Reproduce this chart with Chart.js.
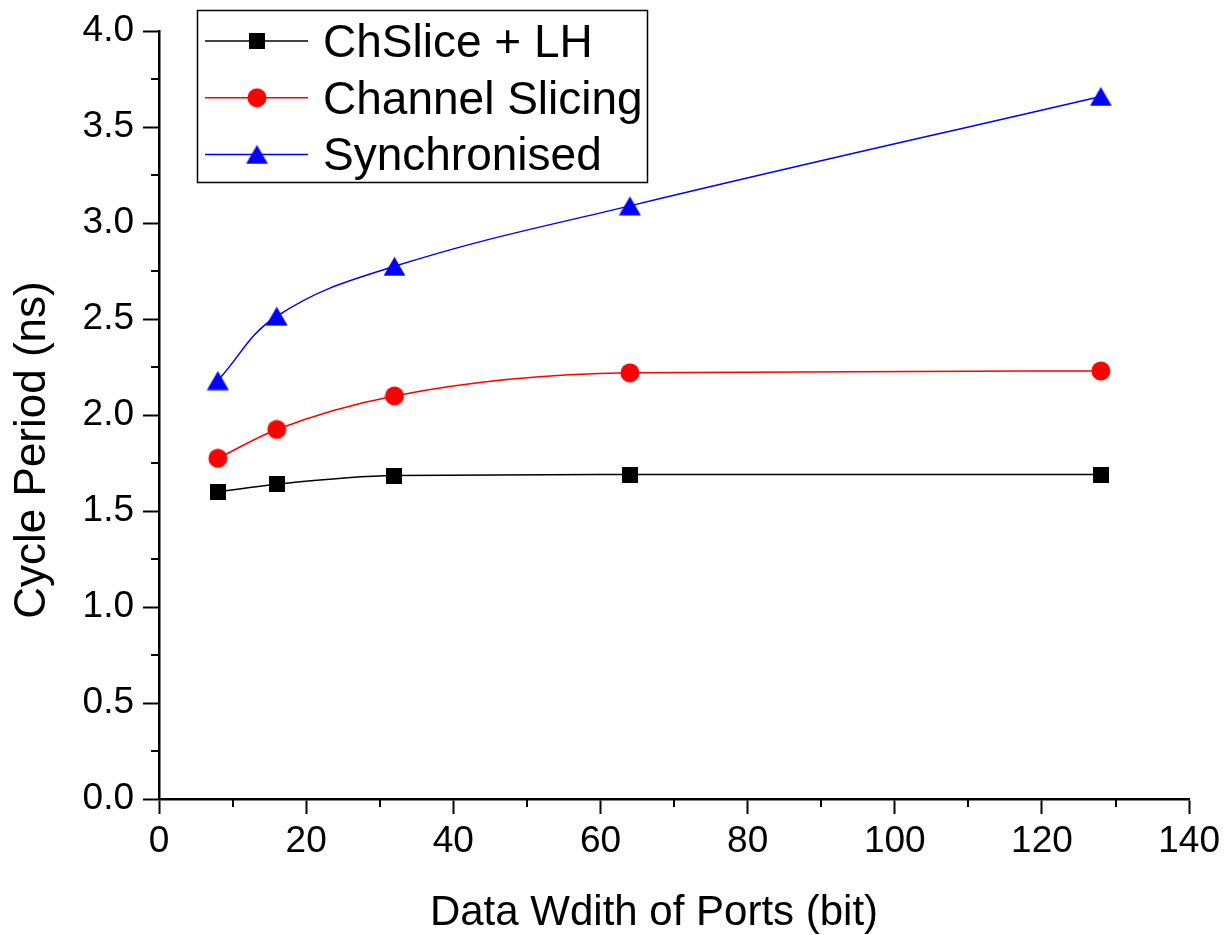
<!DOCTYPE html>
<html>
<head>
<meta charset="utf-8">
<script src="https://cdn.jsdelivr.net/npm/chart.js@4.4.0/dist/chart.umd.min.js"></script>
<style>
  html, body { margin: 0; padding: 0; background: #fff; }
  #wrap { width: 1226px; height: 935px; }
</style>
</head>
<body>
<div id="wrap"><canvas id="myChart" width="1226" height="935"></canvas></div>
<script>
// values
const portWidths = [8, 16, 32, 64, 128];
const chSliceLH = [1.60, 1.64, 1.685, 1.69, 1.69];
const channelSlicing = [1.775, 1.925, 2.10, 2.22, 2.23];
const synchronised = [2.18, 2.515, 2.775, 3.09, 3.66];
const seriesNames = ["ChSlice + LH", "Channel Slicing", "Synchronised"];
const xTickLabels = [0, 20, 40, 60, 80, 100, 120, 140];
const yTickLabels = ["0.0", "0.5", "1.0", "1.5", "2.0", "2.5", "3.0", "3.5", "4.0"];
const xTitle = "Data Wdith of Ports (bit)";
const yTitle = "Cycle Period (ns)";

const FONT = "'Liberation Sans', Arial, sans-serif";

function makeMarker(shape, color) {
  const c = document.createElement("canvas");
  let w = 16, h = 16;
  if (shape === "circle") { w = 20; h = 20; }
  if (shape === "triangle") { w = 23; h = 20; }
  c.width = w;
  c.height = h;
  const g = c.getContext("2d");
  g.fillStyle = color;
  g.beginPath();
  if (shape === "square") {
    g.rect(0, 0, w, h);
  } else if (shape === "circle") {
    g.arc(w / 2, h / 2, 9.5, 0, Math.PI * 2);
  } else {
    g.moveTo(w / 2, 0.5);
    g.lineTo(w - 0.5, h - 0.5);
    g.lineTo(0.5, h - 0.5);
    g.closePath();
  }
  g.fill();
  return c;
}

function toPoints(values) {
  return values.map((v, i) => ({ x: portWidths[i], y: v }));
}

function makeDataset(label, values, color, shape, monotone) {
  return {
    label: label,
    data: toPoints(values),
    borderColor: color,
    backgroundColor: color,
    borderWidth: 1.5,
    pointStyle: makeMarker(shape, color),
    pointRadius: 10,
    cubicInterpolationMode: monotone ? "monotone" : "default",
    tension: 0.4,
    fill: false,
  };
}

function isMajorY(v) {
  return Math.abs(v * 2 - Math.round(v * 2)) < 1e-6;
}

const tickColorX = (ctx) => (ctx.tick && ctx.tick.value % 20 === 0 ? "#000" : "rgba(0,0,0,0)");
const tickColorY = (ctx) => (ctx.tick && isMajorY(ctx.tick.value) ? "#000" : "rgba(0,0,0,0)");

// minor ticks, titles and the boxed legend
const extras = {
  id: "extras",
  afterDraw(chart) {
    const ctx = chart.ctx;
    const xs = chart.scales.x;
    const ys = chart.scales.y;
    const area = chart.chartArea;
    ctx.save();
    ctx.strokeStyle = "#000";
    ctx.lineWidth = 2;
    ctx.beginPath();
    xs.ticks.forEach((t) => {
      if (t.value % 20 !== 0) {
        const px = Math.round(xs.getPixelForValue(t.value));
        ctx.moveTo(px, area.bottom);
        ctx.lineTo(px, area.bottom + 8);
      }
    });
    ys.ticks.forEach((t) => {
      if (!isMajorY(t.value)) {
        const py = Math.round(ys.getPixelForValue(t.value));
        ctx.moveTo(area.left, py);
        ctx.lineTo(area.left - 8, py);
      }
    });
    ctx.stroke();

    // axis titles
    ctx.fillStyle = "#000";
    ctx.textAlign = "center";
    ctx.textBaseline = "alphabetic";
    ctx.font = "42px " + FONT;
    ctx.fillText(xTitle, 654, 925);
    ctx.save();
    ctx.translate(45, 450);
    ctx.rotate(-Math.PI / 2);
    ctx.font = "44px " + FONT;
    ctx.fillText(yTitle, 0, 0);
    ctx.restore();

    // legend
    ctx.lineWidth = 1.5;
    ctx.strokeRect(197.5, 10.5, 450, 172);
    ctx.font = "46px " + FONT;
    ctx.textAlign = "left";
    chart.data.datasets.forEach((ds, i) => {
      const cy = 41 + i * 56.7;
      ctx.strokeStyle = ds.borderColor;
      ctx.lineWidth = 1.5;
      ctx.beginPath();
      ctx.moveTo(205, cy);
      ctx.lineTo(308, cy);
      ctx.stroke();
      const m = ds.pointStyle;
      ctx.drawImage(m, 257 - m.width / 2, cy - m.height / 2);
      ctx.fillStyle = "#000";
      ctx.fillText(ds.label, 323, cy + 16);
    });
    ctx.restore();
  },
};

const ctx = document.getElementById("myChart").getContext("2d");

new Chart(ctx, {
  type: "line",
  data: {
    datasets: [
      makeDataset(seriesNames[0], chSliceLH, "#000000", "square", true),
      makeDataset(seriesNames[1], channelSlicing, "#ff0000", "circle", true),
      makeDataset(seriesNames[2], synchronised, "#0000ff", "triangle", false),
    ],
  },
  options: {
    responsive: false,
    animation: false,
    devicePixelRatio: 1,
    layout: { padding: { top: 30, right: 35, left: 0, bottom: 0 } },
    plugins: {
      legend: { display: false },
      tooltip: { enabled: false },
    },
    scales: {
      x: {
        type: "linear",
        min: 0,
        max: 140,
        ticks: {
          stepSize: 10,
          autoSkip: false,
          maxRotation: 0,
          padding: 6,
          color: "#000",
          font: { family: FONT, size: 37 },
          callback: (v) => (xTickLabels.includes(v) ? String(v) : ""),
        },
        grid: {
          drawOnChartArea: false,
          drawTicks: true,
          tickLength: 15,
          tickWidth: 2,
          tickColor: tickColorX,
        },
        border: { display: true, color: "#000", width: 2.5 },
        afterFit: (s) => { s.height = 136; },
      },
      y: {
        type: "linear",
        min: 0,
        max: 4,
        ticks: {
          stepSize: 0.25,
          autoSkip: false,
          padding: 9,
          color: "#000",
          font: { family: FONT, size: 37 },
          callback: (v) => (isMajorY(v) ? yTickLabels[Math.round(v * 2)] : ""),
        },
        grid: {
          drawOnChartArea: false,
          drawTicks: true,
          tickLength: 16,
          tickWidth: 2,
          tickColor: tickColorY,
        },
        border: { display: true, color: "#000", width: 2.5 },
        afterFit: (s) => { s.width = 159; },
      },
    },
  },
  plugins: [extras],
});
</script>
</body>
</html>
